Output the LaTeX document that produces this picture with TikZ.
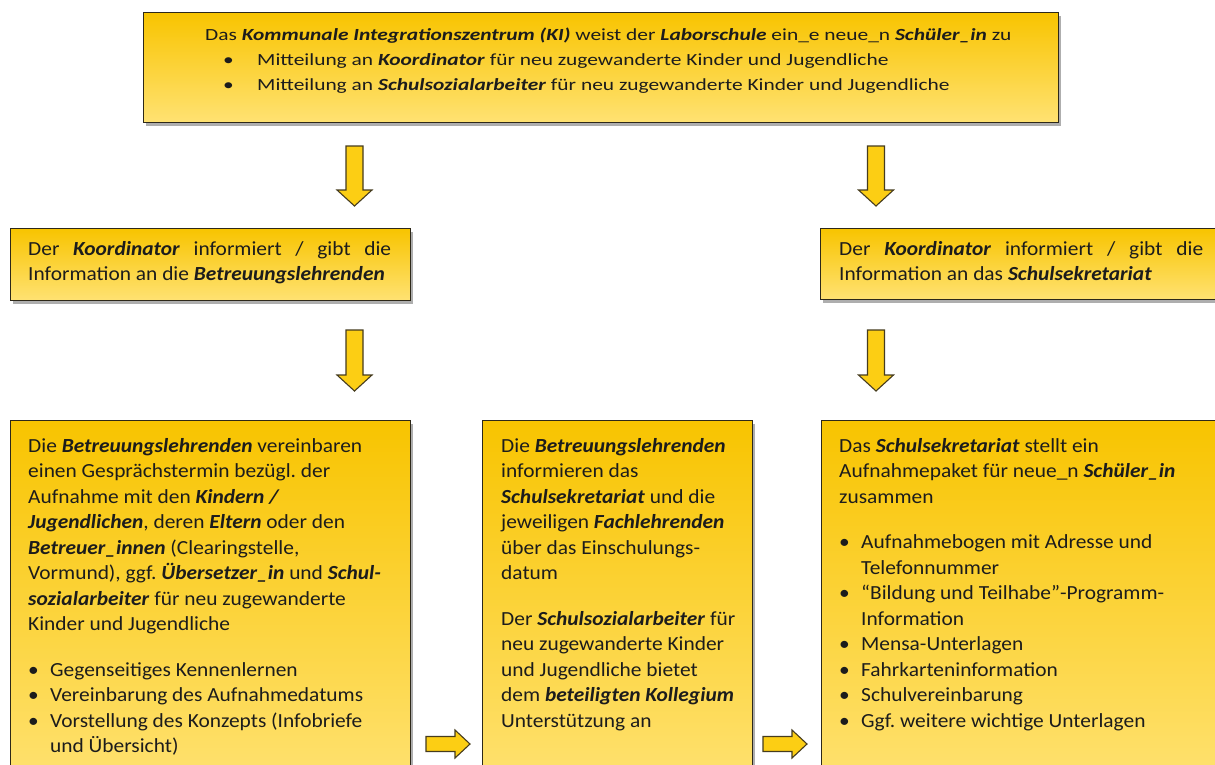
\documentclass[tikz,border=0pt]{standalone}
\usepackage{fontspec}
\setmainfont[FakeStretch=1.07]{Carlito}
\newfontfamily\topfont[FakeStretch=1.26]{Carlito}
\usetikzlibrary{shadows}
\definecolor{ytop}{RGB}{248,196,0}
\definecolor{ybot}{RGB}{255,226,115}
\definecolor{bordc}{RGB}{45,40,25}
\definecolor{txtc}{RGB}{28,28,28}
\definecolor{arrowfill}{RGB}{252,206,20}
\definecolor{arrowdraw}{RGB}{70,60,30}
\newcommand\bfit[1]{\textbf{\textit{#1}}}
\newcommand\blt{\makebox[22pt][l]{•}}
\newcommand\downblock[4]{% name, x centre, y top, y tip
  \coordinate (#1) at (#2,#3);
  \draw[blockarrow] (#2-8.5,#3) -- (#2+8.5,#3) -- (#2+8.5,#4-16) -- (#2+17.5,#4-16)
    -- (#2,#4) -- (#2-17.5,#4-16) -- (#2-8.5,#4-16) -- cycle;}
\newcommand\rightblock[4]{% name, y centre, x left, x tip
  \coordinate (#1) at (#3,#2);
  \draw[blockarrow] (#3,#2-7.5) -- (#4-15,#2-7.5) -- (#4-15,#2-14) -- (#4,#2)
    -- (#4-15,#2+14) -- (#4-15,#2+7.5) -- (#3,#2+7.5) -- cycle;}
\tikzset{
  box/.style={draw=bordc, line width=1.3pt, top color=ytop, bottom color=ybot,
    anchor=north west, inner sep=0pt,
    drop shadow={shadow xshift=2pt, shadow yshift=-3pt, opacity=0.45, fill=black!70}},
  blockarrow/.style={draw=arrowdraw, line width=1.1pt, fill=arrowfill, line join=miter},
  txt/.style={inner sep=0pt, anchor=base west, text=txtc, font=\fontsize{20}{25.5}\selectfont},
  toptxt/.style={inner sep=0pt, anchor=base west, text=txtc, font=\topfont\fontsize{17}{25}\selectfont},
}
\frenchspacing
\begin{document}
\begin{tikzpicture}[x=1pt, y=-1pt]
\useasboundingbox (0,0) rectangle (1215,764);
\fill[white] (0,0) rectangle (1215,764);
\clip (0,0) rectangle (1215,764);

% boxes
\node[box, minimum width=915pt, minimum height=110pt] (top) at (143,12) {};
\node[box, minimum width=400pt, minimum height=72pt] (midL) at (10,228) {};
\node[box, minimum width=420pt, minimum height=71pt] (midR) at (820,228) {};
\node[box, minimum width=400pt, minimum height=370pt] (botL) at (10,420) {};
\node[box, minimum width=270pt, minimum height=370pt] (botM) at (482,420) {};
\node[box, minimum width=420pt, minimum height=370pt] (botR) at (821,420) {};

% arrows
\downblock{a1}{354.5}{146}{206}
\downblock{a2}{876}{146}{206}
\downblock{a3}{354.5}{330}{391}
\downblock{a4}{876}{330}{391}
\rightblock{a5}{744}{426}{470}
\rightblock{a6}{744}{763}{807}

% texts
\node[toptxt] (ttop) at (205,40) {\parbox[t]{900pt}{\raggedright
Das \bfit{Kommunale Integrationszentrum (KI)} weist der \bfit{Laborschule} ein\_e neue\_n \bfit{Schüler\_in} zu\\
\hspace*{18pt}\makebox[34pt][l]{•}Mitteilung an \bfit{Koordinator} für neu zugewanderte Kinder und Jugendliche\\
\hspace*{18pt}\makebox[34pt][l]{•}Mitteilung an \bfit{Schulsozialarbeiter} für neu zugewanderte Kinder und Jugendliche}};

\node[txt] (tmidL) at (28,255) {\parbox[t]{380pt}{\raggedright
\makebox[363pt][s]{Der \bfit{Koordinator} informiert / gibt die}\\
Information an die \bfit{Betreuungslehrenden}}};

\node[txt] (tmidR) at (839,255) {\parbox[t]{380pt}{\raggedright
\makebox[364pt][s]{Der \bfit{Koordinator} informiert / gibt die}\\
Information an das \bfit{Schulsekretariat}}};

\node[txt] (tbotL) at (28,452) {\parbox[t]{420pt}{\raggedright
Die \bfit{Betreuungslehrenden} vereinbaren\\
einen Gesprächstermin bezügl. der\\
Aufnahme mit den \bfit{Kindern /}\\
\bfit{Jugendlichen}, deren \bfit{Eltern} oder den\\
\bfit{Betreuer\_innen} (Clearingstelle,\\
Vormund), ggf. \bfit{Übersetzer\_in} und \bfit{Schul-}\\
\bfit{sozialarbeiter} für neu zugewanderte\\
Kinder und Jugendliche\\[20pt]
\blt Gegenseitiges Kennenlernen\\
\blt Vereinbarung des Aufnahmedatums\\
\blt Vorstellung des Konzepts (Infobriefe\\
\hspace*{22pt}und Übersicht)}};

\node[txt] (tbotM) at (501,452) {\parbox[t]{300pt}{\raggedright
Die \bfit{Betreuungslehrenden}\\
informieren das\\
\bfit{Schulsekretariat} und die\\
jeweiligen \bfit{Fachlehrenden}\\
über das Einschulungs-\\
datum\\[20pt]
Der \bfit{Schulsozialarbeiter} für\\
neu zugewanderte Kinder\\
und Jugendliche bietet\\
dem \bfit{beteiligten Kollegium}\\
Unterstützung an}};

\node[txt] (tbotR) at (839,452) {\parbox[t]{380pt}{\raggedright
Das \bfit{Schulsekretariat} stellt ein\\
Aufnahmepaket für neue\_n \bfit{Schüler\_in}\\
zusammen\\[20pt]
\blt Aufnahmebogen mit Adresse und\\
\hspace*{22pt}Telefonnummer\\
\blt “Bildung und Teilhabe”-Programm-\\
\hspace*{22pt}Information\\
\blt Mensa-Unterlagen\\
\blt Fahrkarteninformation\\
\blt Schulvereinbarung\\
\blt Ggf. weitere wichtige Unterlagen}};
\end{tikzpicture}
\end{document}
